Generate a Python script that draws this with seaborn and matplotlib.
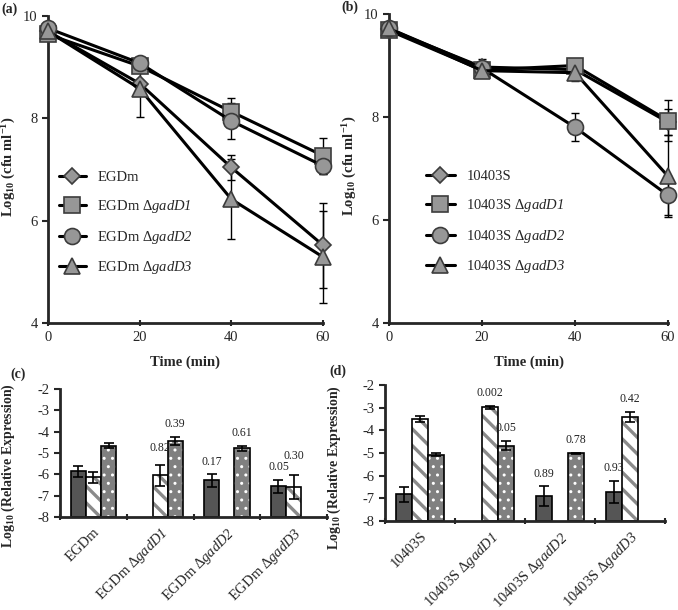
import numpy as np
import pandas as pd
import matplotlib
matplotlib.use('Agg')
import matplotlib.pyplot as plt
import matplotlib.colors as mcolors
from matplotlib.container import BarContainer
import seaborn as sns

# ── 1. Survival data (panels a, b) ───────────────────────────────────────
times = [0, 20, 40, 60]

egd_names = ["EGDm", "EGDm Δ$\\mathit{gadD1}$",
             "EGDm Δ$\\mathit{gadD2}$", "EGDm Δ$\\mathit{gadD3}$"]
egd_wt     = [9.70, 8.68, 7.04, 5.52]
egd_d1     = [9.64, 9.02, 8.13, 7.27]
egd_d2     = [9.76, 9.08, 7.95, 7.07]
egd_d3     = [9.70, 8.58, 6.42, 5.29]
egd_wt_err = [0.10, 0.05, 0.25, 0.83]
egd_d1_err = [0.10, 0.08, 0.27, 0.35]
egd_d2_err = [0.12, 0.05, 0.35, 0.15]
egd_d3_err = [0.10, 0.55, 0.78, 0.90]

s10_names = ["10403S", "10403S Δ$\\mathit{gadD1}$",
             "10403S Δ$\\mathit{gadD2}$", "10403S Δ$\\mathit{gadD3}$"]
s10_wt     = [9.70, 8.97, 8.92, 7.90]
s10_d1     = [9.68, 8.91, 9.00, 7.93]
s10_d2     = [9.72, 8.95, 7.80, 6.48]
s10_d3     = [9.72, 8.90, 8.86, 6.85]
s10_wt_err = [0.12, 0.15, 0.10, 0.25]
s10_d1_err = [0.10, 0.10, 0.10, 0.40]
s10_d2_err = [0.10, 0.10, 0.27, 0.38]
s10_d3_err = [0.10, 0.10, 0.17, 0.80]

# ── 2. Expression data (panels c, d) ─────────────────────────────────────
genes = ["gadD1", "gadD2", "gadD3"]
nan = np.nan

c_strains = egd_names
c_gadD1     = [-5.86, nan, -6.28, -6.56]
c_gadD1_err = [0.27, nan, 0.30, 0.31]
c_gadD2     = [-6.14, -6.05, nan, -6.60]
c_gadD2_err = [0.26, 0.49, nan, 0.57]
c_gadD3     = [-4.66, -4.43, -4.77, nan]
c_gadD3_err = [0.12, 0.19, 0.12, nan]
c_gadD1_p = ["", "", "0.17", "0.05"]
c_gadD2_p = ["", "0.82", "", "0.30"]
c_gadD3_p = ["", "0.39", "0.61", ""]

d_strains = s10_names
d_gadD1     = [-6.82, nan, -6.90, -6.72]
d_gadD1_err = [0.32, nan, 0.43, 0.50]
d_gadD2     = [-3.50, -2.99, nan, -3.40]
d_gadD2_err = [0.15, 0.06, nan, 0.22]
d_gadD3     = [-5.08, -4.67, -5.02, nan]
d_gadD3_err = [0.06, 0.21, 0.04, nan]
d_gadD1_p = ["", "", "0.89", "0.93"]
d_gadD2_p = ["", "0.002", "", "0.42"]
d_gadD3_p = ["", "0.05", "0.78", ""]

# ── 3. Style ─────────────────────────────────────────────────────────────
sns.set_style("ticks")
plt.rcParams['font.family'] = ['Liberation Serif', 'DejaVu Serif']
plt.rcParams['mathtext.fontset'] = 'custom'
plt.rcParams['mathtext.rm'] = 'Liberation Serif:italic'   # digits inside \mathit
plt.rcParams['mathtext.it'] = 'Liberation Serif:italic'
plt.rcParams['mathtext.default'] = 'regular'
plt.rcParams['axes.unicode_minus'] = False
plt.rcParams['hatch.linewidth'] = 2.2

markers = ['D', 's', 'o', '^']
msizes = [8, 11, 11.5, 12]
mfc, mec = '#979797', '#3c3c3c'
bar_fc = ['#555555', 'white', '#808080']
hatches = ['', '\\\\', '..']
hatch_col = [None, '#8a8a8a', 'white']
hatch_lw = [0, 2.4, 1.0]

fig = plt.figure(figsize=(6.78, 6.10), dpi=100)
W, H = 678, 610


def box(l, t, r, b):
    return [l / W, 1 - b / H, (r - l) / W, (b - t) / H]


def survival(ax, names, series, errs):
    for i, (name, vals, err) in enumerate(zip(names, series, errs)):
        eb = ax.errorbar(times, vals, yerr=err, fmt='none', ecolor='black',
                         elinewidth=1, capsize=3, capthick=1, zorder=2)
        for art in eb.lines[1] + eb.lines[2]:
            art.set_clip_on(False)
        sns.lineplot(x=times, y=vals, ax=ax, color='black', lw=2.2,
                     marker=markers[i], markersize=msizes[i],
                     markerfacecolor=mfc, markeredgecolor=mec,
                     markeredgewidth=1.2, label=name, clip_on=False,
                     zorder=3 + i)
    ax.set_xlim(0, 60)
    ax.set_ylim(4, 10)
    ax.set_xticks(times)
    ax.set_yticks([4, 6, 8, 10])
    ax.set_xlabel('Time (min)', fontsize=10.5, fontweight='bold', labelpad=8)
    ax.set_ylabel('Log$_{10}$ (cfu ml$^{-1}$)', fontsize=10.5,
                  fontweight='bold')
    ax.tick_params(labelsize=10.5, width=1.5, length=4)
    ax.tick_params(axis='x', direction='inout', length=5)
    for sp in ['left', 'bottom']:
        ax.spines[sp].set_linewidth(2)
    sns.despine(ax=ax)


def expression(ax, strains, vals, errs, pvals, nudge):
    rows = []
    for g, v, e in zip(genes, vals, errs):
        for s, vv, ee in zip(strains, v, e):
            if not np.isnan(vv):
                rows.append({'strain': s, 'gene': g, 'height': vv + 8})
    df = pd.DataFrame(rows)
    sns.barplot(data=df, x='strain', y='height', hue='gene', order=strains,
                hue_order=genes, width=0.68, bottom=-8, errorbar=None,
                palette=bar_fc, edgecolor='black', linewidth=1.2,
                saturation=1, legend=False, ax=ax)
    bars = [c for c in ax.containers if isinstance(c, BarContainer)]
    for j, cont in enumerate(bars):
        for p in cont.patches:
            k = int(round(p.get_x() + p.get_width() / 2))
            xc = p.get_x() + p.get_width() / 2
            v, e = vals[j][k], errs[j][k]
            if hatches[j]:
                p.set_hatch(hatches[j])
                p._hatch_color = mcolors.to_rgba(hatch_col[j])
                if hasattr(p, 'set_hatch_linewidth'):
                    p.set_hatch_linewidth(hatch_lw[j])
            ax.errorbar(xc, v, yerr=e, fmt='none', ecolor='black',
                        elinewidth=1.2, capsize=3.5, capthick=1.2, zorder=4)
            if pvals[j][k]:
                ax.text(xc, v + e + 0.3 + nudge.get((j, k), 0), pvals[j][k],
                        ha='center', va='bottom', fontsize=8.5,
                        color='#222222')
    ax.set_xlim(-0.5, len(strains) - 0.5)
    ax.set_ylim(-8, -2)
    ax.set_yticks(range(-8, -1))
    ax.set_xlabel('')
    ax.set_ylabel('Log$_{10}$ (Relative Expression)', fontsize=10,
                  fontweight='bold')
    ax.set_xticks(range(len(strains)))
    ax.set_xticklabels(strains, rotation=45, ha='right',
                       rotation_mode='anchor', fontsize=10.5)
    ax.set_xticks(np.arange(-0.5, len(strains)), minor=True)
    ax.tick_params(axis='x', which='major', length=0, pad=6)
    ax.tick_params(axis='x', which='minor', length=4, width=1.5,
                   direction='inout')
    ax.tick_params(axis='y', labelsize=10.5, width=1.5, length=4)
    for sp in ['left', 'bottom']:
        ax.spines[sp].set_linewidth(2)
    sns.despine(ax=ax)


# ── 4. Panels ────────────────────────────────────────────────────────────
ax_a = fig.add_axes(box(48, 16, 323, 323))
survival(ax_a, egd_names, [egd_wt, egd_d1, egd_d2, egd_d3],
         [egd_wt_err, egd_d1_err, egd_d2_err, egd_d3_err])
ax_a.yaxis.set_label_coords(-0.108, 0.51)
ax_a.legend(loc='upper left', bbox_to_anchor=(0.02, 0.515), frameon=False,
            fontsize=10.5, handlelength=1.8, labelspacing=0.95,
            handletextpad=0.8, borderaxespad=0)

ax_b = fig.add_axes(box(389, 14, 668, 323))
survival(ax_b, s10_names, [s10_wt, s10_d1, s10_d2, s10_d3],
         [s10_wt_err, s10_d1_err, s10_d2_err, s10_d3_err])
ax_b.yaxis.set_label_coords(-0.108, 0.51)
ax_b.legend(loc='upper left', bbox_to_anchor=(0.11, 0.515), frameon=False,
            fontsize=10.5, handlelength=2.0, labelspacing=0.95,
            handletextpad=0.8, borderaxespad=0)

ax_c = fig.add_axes(box(60, 389, 327, 517))
expression(ax_c, c_strains, [c_gadD1, c_gadD2, c_gadD3],
           [c_gadD1_err, c_gadD2_err, c_gadD3_err],
           [c_gadD1_p, c_gadD2_p, c_gadD3_p], {(1, 3): 0.3, (1, 1): 0.2})
ax_c.yaxis.set_label_coords(-0.16, 0.40)

ax_d = fig.add_axes(box(385, 385, 665, 521))
expression(ax_d, d_strains, [d_gadD1, d_gadD2, d_gadD3],
           [d_gadD1_err, d_gadD2_err, d_gadD3_err],
           [d_gadD1_p, d_gadD2_p, d_gadD3_p], {})
ax_d.yaxis.set_label_coords(-0.15, 0.39)

for lab, (x, y) in zip(['(a)', '(b)', '(c)', '(d)'],
                       [(1, 9), (341, 7), (10, 374), (329, 371)]):
    fig.text(x / W, 1 - y / H, lab, fontsize=10, fontweight='bold',
             va='center', ha='left')

plt.savefig("out.png", dpi=100)
